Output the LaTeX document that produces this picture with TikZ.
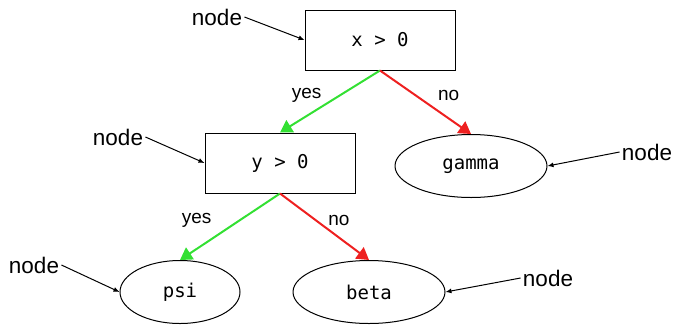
\documentclass[tikz,border=0pt]{standalone}
\usepackage{fontspec}
\setmainfont{Liberation Sans}
\setmonofont{DejaVu Sans Mono}
\usetikzlibrary{arrows.meta,shapes.geometric}
\definecolor{TGreen}{HTML}{33E033}
\definecolor{TRed}{HTML}{EE2020}

\begin{document}
\begin{tikzpicture}[x=0.5pt,y=-0.5pt,
  test/.style={draw,line width=0.5pt,minimum width=75pt,minimum height=30pt,
    font=\ttfamily\fontsize{9.5}{11}\selectfont},
  leaf/.style={draw,ellipse,line width=0.5pt,inner sep=0pt,minimum width=76pt,
    minimum height=31.5pt,font=\ttfamily\fontsize{9.5}{11}\selectfont},
  tag/.style={inner sep=1pt,font=\fontsize{11.25}{13}\selectfont},
  lbl/.style={text=black,font=\fontsize{9.5}{11}\selectfont},
  yes/.style={-{Triangle[length=6pt,width=7pt]},line width=1pt,color=TGreen},
  no/.style={-{Triangle[length=6pt,width=7pt]},line width=1pt,color=TRed},
  ptr/.style={-{Latex[length=3pt,width=2.5pt]},line width=0.5pt}
]
  \useasboundingbox (0,0) rectangle (674,327);
  % decision nodes
  \node[test] (xpos) at (380,40) {x > 0};
  \node[test] (ypos) at (280,163) {y > 0};
  % leaves
  \node[leaf] (gamma) at (471,166) {gamma};
  \node[leaf,minimum width=60pt] (psi) at (180,292) {psi};
  \node[leaf] (beta) at (369,292) {beta};
  % branches
  \draw[yes] (xpos.south) -- node[lbl,pos=.4,left=5.5pt] {yes} (ypos.north);
  \draw[no] (xpos.south) -- node[lbl,pos=.4,right=7pt] {no} (gamma.north);
  \draw[yes] (ypos.south) -- node[lbl,pos=.4,left=10.5pt] {yes} (psi.north);
  \draw[no] (ypos.south) -- node[lbl,pos=.4,right=2.5pt] {no} (beta.north);
  % pointers
  \node[tag] (t1) at (217,17) {node};
  \node[tag] (t2) at (118,137) {node};
  \node[tag] (t3) at (647,152) {node};
  \node[tag] (t4) at (34,265) {node};
  \node[tag] (t5) at (548,278) {node};
  \draw[ptr] (t1.east) -- (xpos.west);
  \draw[ptr] (t2.east) -- (ypos.west);
  \draw[ptr] (t3.west) -- (gamma.east);
  \draw[ptr] (t4.east) -- (psi.west);
  \draw[ptr] (t5.west) -- (beta.east);
\end{tikzpicture}
\end{document}
